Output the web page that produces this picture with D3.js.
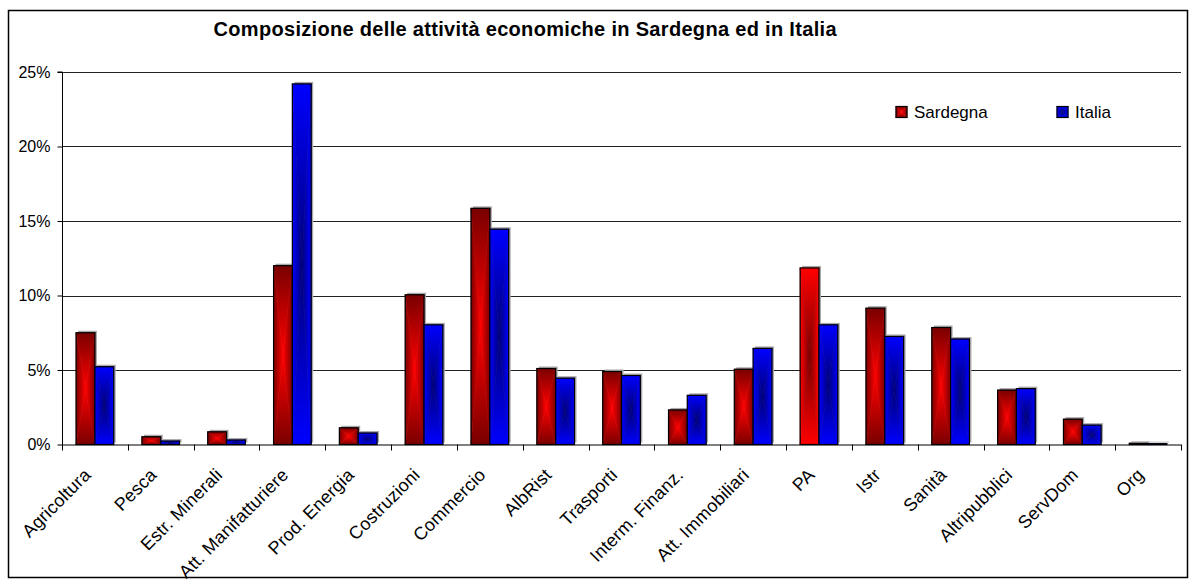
<!DOCTYPE html>
<html>
<head>
<meta charset="utf-8">
<script src="https://cdn.jsdelivr.net/npm/d3@7"></script>
<style>
  html, body { margin: 0; padding: 0; background: #fff; }
  svg { display: block; }
  text { font-family: Arial, "Liberation Sans", sans-serif; fill: #000; }
</style>
</head>
<body>
<svg id="chart" width="1196" height="584"></svg>
<script>
// Composizione delle attività economiche (% sul totale)
const categories = ["Agricoltura", "Pesca", "Estr. Minerali", "Att. Manifatturiere", "Prod. Energia",
  "Costruzioni", "Commercio", "AlbRist", "Trasporti", "Interm. Finanz.", "Att. Immobiliari",
  "PA", "Istr", "Sanità", "Altripubblici", "ServDom", "Org"];
const seriesNames = ["Sardegna", "Italia"];
const sardegna = [7.5, 0.52, 0.85, 12.0, 1.12, 10.05, 15.85, 5.1, 4.9, 2.32, 5.05, 11.85, 9.15, 7.85, 3.65, 1.7, 0.08];
const italia   = [5.22, 0.23, 0.3, 24.2, 0.77, 8.03, 14.45, 4.45, 4.63, 3.3, 6.45, 8.03, 7.25, 7.08, 3.75, 1.3, 0.05];
const yTicks = [0, 5, 10, 15, 20, 25];
const title = "Composizione delle attività economiche in Sardegna ed in Italia";

const svg = d3.select("#chart");
const plot = { left: 62, right: 1181, top: 72, bottom: 444.5 };

// Two-colour "from centre" fills: [edge colour, centre colour]
const fills = {
  sard: ["#7a0000", "#ff0000"],
  sardPA: ["#ff0000", "#7a0000"],
  ita: ["#0000ff", "#000078"]
};
const defs = svg.append("defs");
const sides = { top: [0, 0, 0, 1], bottom: [0, 1, 0, 0], left: [0, 0, 1, 0], right: [1, 0, 0, 0] };
Object.entries(fills).forEach(([key, [edge, centre]]) => {
  Object.entries(sides).forEach(([side, [x1, y1, x2, y2]]) => {
    const g = defs.append("linearGradient")
      .attr("id", `${key}-${side}`)
      .attr("x1", x1).attr("y1", y1).attr("x2", x2).attr("y2", y2);
    g.append("stop").attr("offset", 0).attr("stop-color", edge);
    g.append("stop").attr("offset", 1).attr("stop-color", centre);
  });
});

// Outer chart frame
svg.append("rect")
  .attr("x", 8.5).attr("y", 10.5).attr("width", 1179).attr("height", 567)
  .attr("fill", "#fff").attr("stroke", "#000").attr("stroke-width", 1.5);

// Scales
const x0 = d3.scaleBand().domain(categories).range([plot.left, plot.right]).paddingInner(0).paddingOuter(0);
const x1 = d3.scaleBand().domain(seriesNames).range([0, x0.bandwidth()]).paddingInner(0).paddingOuter(0.75);
const y = d3.scaleLinear().domain([0, 25]).range([plot.bottom, plot.top]);

// Gridlines
svg.append("g").selectAll("line").data(yTicks.filter(d => d > 0)).join("line")
  .attr("x1", plot.left).attr("x2", plot.right)
  .attr("y1", d => Math.round(y(d)) + 0.5).attr("y2", d => Math.round(y(d)) + 0.5)
  .attr("stroke", "#222").attr("stroke-width", 1);

// Y axis
const yAxis = d3.axisLeft(y).tickValues(yTicks).tickFormat(d => d + "%").tickSize(5).tickPadding(7);
const gy = svg.append("g").attr("transform", `translate(${plot.left + 0.5},0)`).call(yAxis);
gy.select(".domain").attr("stroke", "#000").attr("d", `M-5,${plot.top}H0V${plot.bottom + 0.5}`);
gy.selectAll(".tick line").attr("stroke", "#000");
gy.selectAll(".tick text").attr("font-size", 16).attr("font-family", "Arial, 'Liberation Sans', sans-serif");

// Bars drawn as four triangles meeting at the centre, giving a rectangular gradient
function drawBar(g, bx, by, bw, bh, key, shadow) {
  if (shadow) {
    g.append("rect").attr("x", bx + 2).attr("y", by - 2).attr("width", bw).attr("height", bh)
      .attr("fill", "#a8a8a8");
  }
  const cx = bx + bw / 2, cy = by + bh / 2;
  const tris = {
    top: [[bx, by], [bx + bw, by], [cx, cy]],
    bottom: [[bx, by + bh], [bx + bw, by + bh], [cx, cy]],
    left: [[bx, by], [bx, by + bh], [cx, cy]],
    right: [[bx + bw, by], [bx + bw, by + bh], [cx, cy]]
  };
  Object.entries(tris).forEach(([side, pts]) => {
    g.append("polygon")
      .attr("points", pts.map(p => p.join(",")).join(" "))
      .attr("fill", `url(#${key}-${side})`)
      .attr("stroke", `url(#${key}-${side})`).attr("stroke-width", 0.6);
  });
  g.append("rect").attr("x", bx).attr("y", by).attr("width", bw).attr("height", bh)
    .attr("fill", "none").attr("stroke", "#000").attr("stroke-width", 1.2);
}

const barsG = svg.append("g");
categories.forEach((c, i) => {
  const vals = [sardegna[i], italia[i]];
  seriesNames.forEach((s, j) => {
    const v = vals[j];
    const key = j === 1 ? "ita" : (c === "PA" ? "sardPA" : "sard");
    const bx = x0(c) + x1(s);
    const by = y(v);
    const bh = Math.max(y(0) - by, 0.8);
    drawBar(barsG.append("g"), bx, Math.min(by, y(0) - 0.8), x1.bandwidth(), bh, key, true);
  });
});

// X axis line and tick marks at category boundaries
const gx = svg.append("g");
gx.append("line").attr("x1", plot.left).attr("x2", plot.right)
  .attr("y1", plot.bottom + 0.5).attr("y2", plot.bottom + 0.5).attr("stroke", "#000");
const bounds = categories.map(c => x0(c)).concat([plot.right]);
gx.selectAll("line.tk").data(bounds).join("line").attr("class", "tk")
  .attr("x1", d => Math.round(d) + 0.5).attr("x2", d => Math.round(d) + 0.5)
  .attr("y1", plot.bottom).attr("y2", plot.bottom + 6).attr("stroke", "#000");

// Rotated category labels
gx.selectAll("text").data(categories).join("text")
  .attr("transform", d => `translate(${x0(d) + x0.bandwidth() / 2 - 3},476) rotate(-45)`)
  .attr("text-anchor", "end")
  .attr("font-size", 18)
  .attr("letter-spacing", 0.2)
  .text(d => d);

// Title
svg.append("text")
  .attr("x", 525).attr("y", 36)
  .attr("text-anchor", "middle")
  .attr("font-size", 20).attr("font-weight", "bold")
  .attr("textLength", 623).attr("lengthAdjust", "spacing")
  .text(title);

// Legend
const legendItems = [{ name: "Sardegna", key: "sard", x: 896 }, { name: "Italia", key: "ita", x: 1057 }];
const lg = svg.append("g");
legendItems.forEach(it => {
  drawBar(lg.append("g"), it.x, 106.5, 11, 11, it.key, false);
  lg.append("text").attr("x", it.x + 18).attr("y", 118).attr("font-size", 17).text(it.name);
});
</script>
</body>
</html>
